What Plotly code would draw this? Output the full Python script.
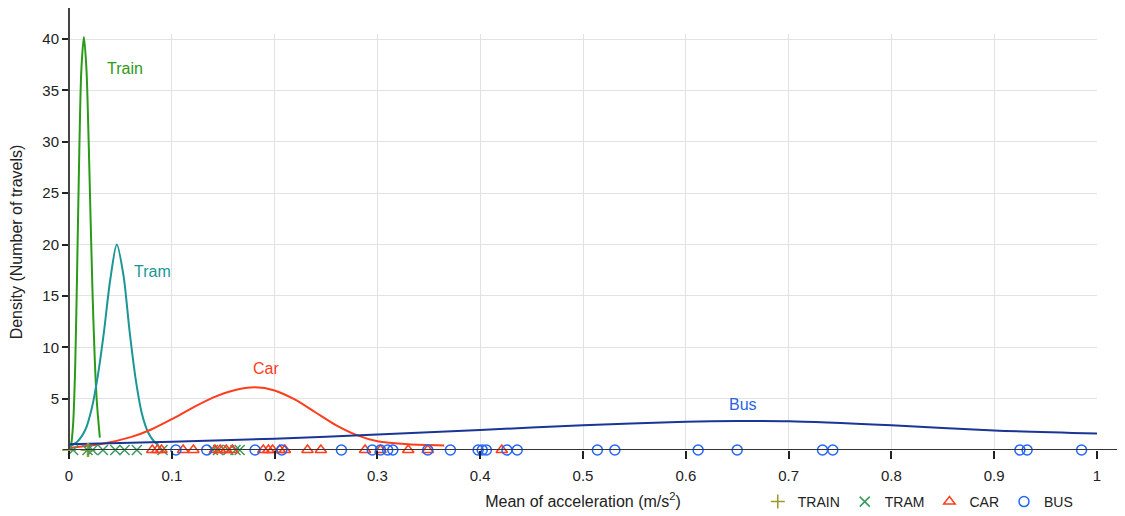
import plotly.graph_objects as go

# ---- density curves ----
train_x = [0.0, 0.002, 0.004, 0.006, 0.008, 0.010, 0.012, 0.0145, 0.017, 0.019, 0.021, 0.023, 0.025, 0.027, 0.030]
train_y = [0.0, 0.5, 2.5, 8.0, 18.0, 29.0, 37.0, 40.2, 37.0, 30.5, 22.5, 15.0, 9.0, 4.8, 1.2]

tram_x = [0.0, 0.008, 0.016, 0.022, 0.028, 0.034, 0.040, 0.0465, 0.053, 0.059, 0.065, 0.071, 0.077, 0.083, 0.087]
tram_y = [0.3, 0.8, 2.0, 4.0, 7.2, 11.5, 16.5, 20.0, 17.0, 11.5, 6.8, 3.5, 1.7, 0.8, 0.5]

car_x = [0.0, 0.03, 0.06, 0.08, 0.10, 0.12, 0.14, 0.16, 0.181, 0.20, 0.22, 0.24, 0.26, 0.28, 0.30, 0.33, 0.365]
car_y = [0.2, 0.55, 1.25, 2.0, 3.0, 4.1, 5.1, 5.8, 6.1, 5.8, 4.9, 3.65, 2.4, 1.45, 0.85, 0.55, 0.45]

bus_x = [0.0, 0.1, 0.2, 0.3, 0.4, 0.5, 0.6, 0.65, 0.7, 0.8, 0.9, 1.0]
bus_y = [0.55, 0.8, 1.1, 1.5, 1.95, 2.4, 2.75, 2.82, 2.79, 2.4, 1.9, 1.6]

# ---- observations (rug markers at y = 0) ----
train_obs = [0.0, 0.018, 0.019]
tram_obs = [0.004, 0.018, 0.023, 0.033, 0.045, 0.054, 0.066, 0.091, 0.140, 0.145, 0.155, 0.162, 0.166]
car_obs = [0.081, 0.086, 0.090, 0.111, 0.121, 0.142, 0.147, 0.153, 0.159, 0.189, 0.194, 0.198,
           0.205, 0.210, 0.232, 0.245, 0.288, 0.303, 0.330, 0.349, 0.421]
bus_obs = [0.104, 0.134, 0.181, 0.207, 0.265, 0.295, 0.303, 0.310, 0.315, 0.349, 0.371, 0.398,
           0.402, 0.406, 0.426, 0.436, 0.514, 0.531, 0.612, 0.650, 0.733, 0.743, 0.925, 0.932, 0.985]

x_ticks = [0, 0.1, 0.2, 0.3, 0.4, 0.5, 0.6, 0.7, 0.8, 0.9, 1]
x_tick_labels = ["0", "0.1", "0.2", "0.3", "0.4", "0.5", "0.6", "0.7", "0.8", "0.9", "1"]
y_ticks = [5, 10, 15, 20, 25, 30, 35, 40]

curve_labels = ["Train", "Tram", "Car", "Bus"]
label_x = [0.0545, 0.0817, 0.1916, 0.6556]
label_y = [37.1, 17.4, 7.9, 4.4]

C_TRAIN = "#2a9a18"
C_TRAM = "#1a9696"
C_CAR = "#ff3d1c"
C_BUS_LINE = "#1a3596"
C_BUS_TXT = "#2a62e6"
label_colors = [C_TRAIN, C_TRAM, C_CAR, C_BUS_TXT]

FONT = "Liberation Sans, Arial, sans-serif"

fig = go.Figure()

for xs, ys, col in [(train_x, train_y, C_TRAIN), (tram_x, tram_y, C_TRAM),
                    (car_x, car_y, C_CAR), (bus_x, bus_y, C_BUS_LINE)]:
    fig.add_trace(go.Scatter(x=xs, y=ys, mode="lines",
                             line=dict(color=col, width=2, shape="spline", smoothing=0.8),
                             showlegend=False, hoverinfo="skip", cliponaxis=False))

markers = [
    ("TRAIN", train_obs, "cross-thin-open", "#9a9a2a"),
    ("TRAM", tram_obs, "x-thin-open", "#3a9a5e"),
    ("CAR", car_obs, "triangle-up-open", "#ff3d1c"),
    ("BUS", bus_obs, "circle-open", "#2266ff"),
]
for name, xs, sym, col in markers:
    fig.add_trace(go.Scatter(x=xs, y=[0] * len(xs), mode="markers", name=name,
                             marker=dict(symbol=sym, size=10, color=col, line=dict(color=col, width=1.5)),
                             cliponaxis=False))

for t, lx, ly, c in zip(curve_labels, label_x, label_y, label_colors):
    fig.add_annotation(x=lx, y=ly, text=t, showarrow=False, font=dict(family=FONT, size=16, color=c),
                       xanchor="center", yanchor="middle")

# axis lines (extend past grid like the reference)
fig.add_shape(type="line", xref="paper", yref="y", x0=-0.006, x1=1.0272, y0=0, y1=0,
              line=dict(color="#333333", width=2), layer="above")
fig.add_shape(type="line", xref="paper", yref="paper", x0=0, x1=0, y0=0, y1=1.065,
              line=dict(color="#444444", width=2), layer="above")

fig.update_layout(
    width=1117, height=508,
    margin=dict(l=61, r=28, t=26, b=66, autoexpand=False),
    plot_bgcolor="white", paper_bgcolor="white",
    font=dict(family=FONT, size=15, color="#222222"),
    xaxis=dict(range=[0, 1], tickvals=x_ticks, ticktext=x_tick_labels, showgrid=True,
               gridcolor="#e2e2e2", gridwidth=1, zeroline=False, showline=False, automargin=False,
               ticks="outside", ticklen=8, tickwidth=2, tickcolor="#222222", ticklabelstandoff=4,
               tickfont=dict(size=15, family=FONT, color="#222222"),
               title=dict(text="Mean of acceleration (m/s<sup>2</sup>)", standoff=12,
                          font=dict(size=16, family=FONT, color="#222222"))),
    yaxis=dict(range=[0, 40.5], tickvals=y_ticks, showgrid=True, gridcolor="#e2e2e2", gridwidth=1,
               zeroline=False, showline=False, automargin=False, ticks="outside", ticklen=6, tickwidth=1.5,
               tickcolor="#222222", tickfont=dict(size=15, family=FONT, color="#222222"),
               title=dict(text="Density (Number of travels)", standoff=15,
                          font=dict(size=16, family=FONT, color="#222222"))),
    legend=dict(orientation="h", x=0.67, y=-0.125, xanchor="left", yanchor="middle",
                font=dict(size=14, family=FONT, color="#222222"), bgcolor="rgba(0,0,0,0)",
                itemwidth=30),
)

fig.write_html("out.html")
